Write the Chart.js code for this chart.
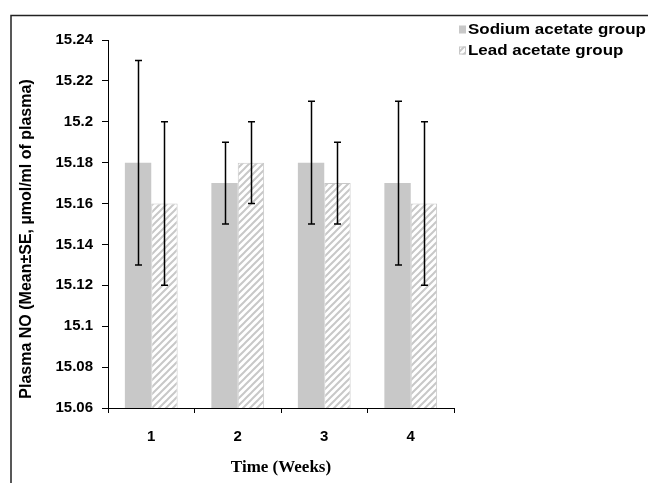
<!DOCTYPE html>
<html lang="en">
<head>
<meta charset="UTF-8" />
<title>Plasma NO – Sodium vs Lead acetate</title>
<script src="https://cdn.jsdelivr.net/npm/chart.js"></script>
<style>
  html, body { margin: 0; padding: 0; background: #fff; }
  #wrap { width: 648px; height: 483px; }
</style>
</head>
<body>
<div id="wrap"><canvas id="noChart" width="648" height="483"></canvas></div>
<script>
  // data
  const weeks = ["1", "2", "3", "4"];
  const seriesNames = ["Sodium acetate group", "Lead acetate group"];
  const sodiumMean = [15.18, 15.17, 15.18, 15.17];
  const sodiumSE = [0.05, 0.02, 0.03, 0.04];
  const leadMean = [15.16, 15.18, 15.17, 15.16];
  const leadSE = [0.04, 0.02, 0.02, 0.04];
  const yTicks = [15.06, 15.08, 15.1, 15.12, 15.14, 15.16, 15.18, 15.2, 15.22, 15.24];
  const yTitle = "Plasma NO (Mean±SE, µmol/ml of plasma)";

  const GRAY = "#c8c8c8";

  // diagonal "/" hatch used for the lead group
  function makeHatch() {
    const c = document.createElement("canvas");
    c.width = 7; c.height = 7;
    const g = c.getContext("2d");
    g.fillStyle = "#fff";
    g.fillRect(0, 0, 7, 7);
    g.strokeStyle = GRAY;
    g.lineWidth = 2;
    g.beginPath();
    g.moveTo(-1, 8); g.lineTo(8, -1);
    g.moveTo(-1, 1); g.lineTo(1, -1);
    g.moveTo(6, 8); g.lineTo(8, 6);
    g.stroke();
    return g.createPattern(c, "repeat");
  }
  const hatch = makeHatch();

  Chart.defaults.font.family = "'Liberation Sans', Arial, sans-serif";
  Chart.defaults.color = "#000";

  // whiskers for mean ± SE
  const errorBars = {
    id: "errorBars",
    afterDatasetsDraw(chart) {
      const ctx = chart.ctx;
      const y = chart.scales.y;
      ctx.save();
      ctx.strokeStyle = "#000";
      ctx.lineWidth = 1.5;
      chart.data.datasets.forEach((ds, i) => {
        chart.getDatasetMeta(i).data.forEach((bar, j) => {
          const hi = y.getPixelForValue(ds.data[j] + ds.se[j]);
          const lo = y.getPixelForValue(ds.data[j] - ds.se[j]);
          const x = Math.round(bar.x) + 0.5;
          ctx.beginPath();
          ctx.moveTo(x, hi); ctx.lineTo(x, lo);
          ctx.moveTo(x - 3.5, hi); ctx.lineTo(x + 3.5, hi);
          ctx.moveTo(x - 3.5, lo); ctx.lineTo(x + 3.5, lo);
          ctx.stroke();
        });
      });
      ctx.restore();
    }
  };

  // outer frame, y title and legend
  const frameLegend = {
    id: "frameLegend",
    afterDraw(chart) {
      const ctx = chart.ctx;
      ctx.save();
      ctx.strokeStyle = "#222";
      ctx.lineWidth = 1.5;
      ctx.beginPath();
      ctx.moveTo(11, 483); ctx.lineTo(11, 15.5); ctx.lineTo(648, 15.5);
      ctx.stroke();

      // y axis title (a bit below the plot centre, as in the original)
      ctx.save();
      ctx.translate(27, 239);
      ctx.rotate(-Math.PI / 2);
      ctx.fillStyle = "#000";
      ctx.font = "bold 16px 'Liberation Sans', Arial, sans-serif";
      ctx.textAlign = "center";
      ctx.textBaseline = "middle";
      ctx.fillText(yTitle, 0, 0);
      ctx.restore();

      const rows = [29.5, 50.5];
      chart.data.datasets.forEach((ds, i) => {
        const cy = rows[i];
        ctx.fillStyle = i === 0 ? GRAY : hatch;
        ctx.fillRect(459, cy - 4, 7, 8);
        if (i === 1) {
          ctx.strokeStyle = GRAY;
          ctx.lineWidth = 1;
          ctx.strokeRect(459.5, cy - 3.5, 6, 7);
        }
        ctx.save();
        ctx.translate(468, cy + 0.5);
        ctx.scale(1.21, 1);
        ctx.fillStyle = "#000";
        ctx.font = "bold 14px 'Liberation Sans', Arial, sans-serif";
        ctx.textBaseline = "middle";
        ctx.fillText(ds.label, 0, 0);
        ctx.restore();
      });
      ctx.restore();
    }
  };

  new Chart(document.getElementById("noChart"), {
    type: "bar",
    data: {
      labels: weeks,
      datasets: [
        {
          label: seriesNames[0],
          data: sodiumMean,
          se: sodiumSE,
          backgroundColor: GRAY,
          borderWidth: 0,
          categoryPercentage: 0.61,
          barPercentage: 1
        },
        {
          label: seriesNames[1],
          data: leadMean,
          se: leadSE,
          backgroundColor: hatch,
          borderColor: GRAY,
          borderWidth: 1,
          categoryPercentage: 0.61,
          barPercentage: 1
        }
      ]
    },
    options: {
      responsive: false,
      animation: false,
      layout: { padding: { left: 12, top: 40, right: 194, bottom: 0 } },
      plugins: { legend: { display: false }, tooltip: { enabled: false } },
      scales: {
        x: {
          afterFit: s => { s.height = 75; },
          grid: { drawOnChartArea: false, color: "#000", tickLength: 5 },
          border: { color: "#000", width: 1 },
          ticks: { font: { size: 15, weight: "bold" }, padding: 15 },
          title: {
            display: true,
            text: "Time (Weeks)",
            font: { family: "'Liberation Serif', 'Times New Roman', serif", size: 17, weight: "bold" },
            padding: { top: 0, bottom: 5 }
          }
        },
        y: {
          min: 15.06,
          max: 15.24,
          afterFit: s => { s.width = 96; },
          afterBuildTicks: s => { s.ticks = yTicks.map(v => ({ value: v })); },
          grid: { drawOnChartArea: false, color: "#000", tickLength: 6 },
          border: { color: "#000", width: 1 },
          ticks: {
            font: { size: 15, weight: "bold" },
            padding: 9,
            callback: v => String(Number(v.toFixed(2)))
          }
        }
      }
    },
    plugins: [errorBars, frameLegend]
  });
</script>
</body>
</html>
